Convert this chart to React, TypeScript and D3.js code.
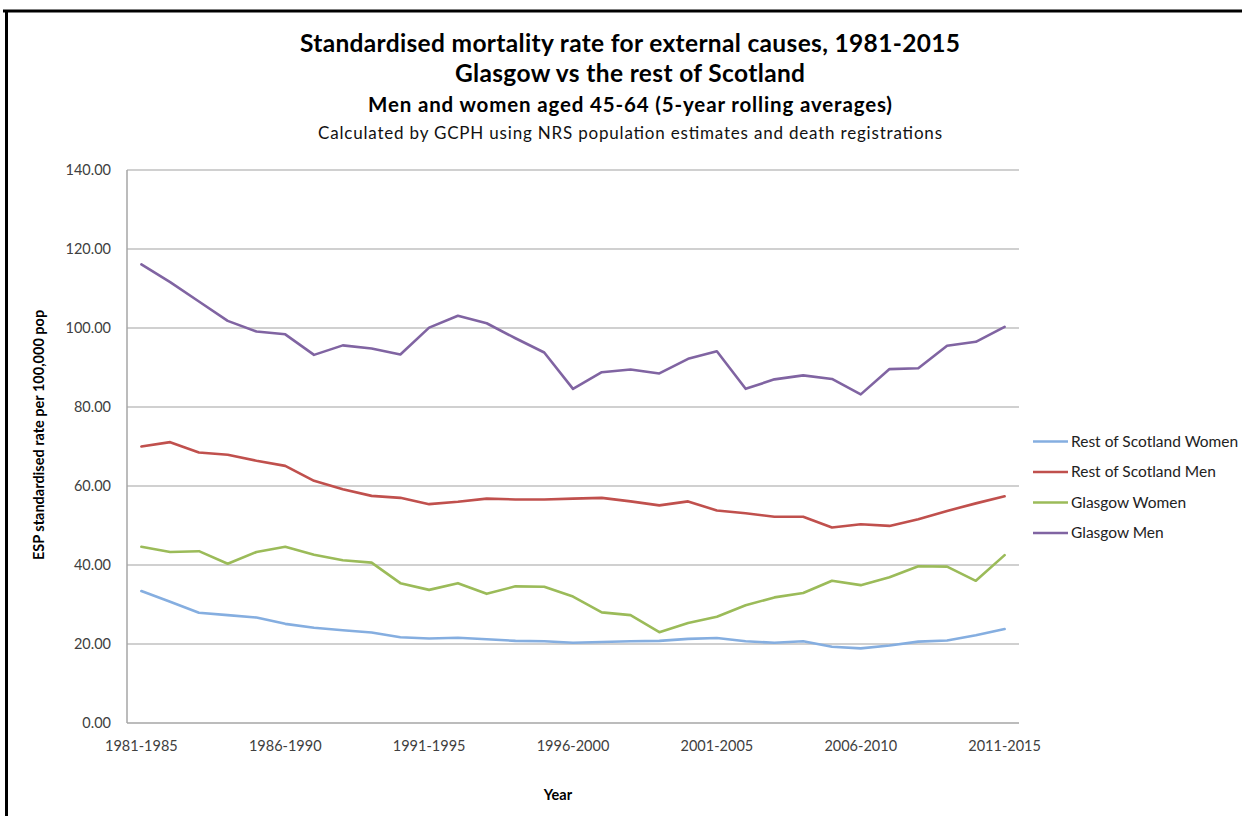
import React from "react";
import * as d3 from "d3";

const categories = [
  "1981-1985","1982-1986","1983-1987","1984-1988","1985-1989","1986-1990","1987-1991","1988-1992",
  "1989-1993","1990-1994","1991-1995","1992-1996","1993-1997","1994-1998","1995-1999","1996-2000",
  "1997-2001","1998-2002","1999-2003","2000-2004","2001-2005","2002-2006","2003-2007","2004-2008",
  "2005-2009","2006-2010","2007-2011","2008-2012","2009-2013","2010-2014","2011-2015",
];

const xTickLabels = ["1981-1985","1986-1990","1991-1995","1996-2000","2001-2005","2006-2010","2011-2015"];
const yTicks = [0, 20, 40, 60, 80, 100, 120, 140];

const restOfScotlandWomen = [33.4,30.7,27.9,27.3,26.7,25.1,24.1,23.5,22.9,21.7,21.4,21.6,21.2,20.8,20.7,20.3,20.5,20.7,20.8,21.3,21.5,20.7,20.3,20.7,19.3,18.9,19.6,20.6,20.9,22.2,23.8];
const restOfScotlandMen = [70.0,71.1,68.5,67.9,66.4,65.1,61.3,59.2,57.5,57.0,55.4,56.0,56.8,56.6,56.6,56.8,57.0,56.1,55.1,56.1,53.8,53.1,52.2,52.2,49.5,50.3,49.9,51.6,53.7,55.6,57.4];
const glasgowWomen = [44.6,43.3,43.5,40.3,43.3,44.6,42.6,41.2,40.6,35.4,33.7,35.4,32.7,34.6,34.5,32.0,28.0,27.3,23.0,25.3,26.9,29.8,31.8,32.9,36.0,34.9,36.9,39.7,39.6,36.0,42.5];
const glasgowMen = [116.1,111.6,106.7,101.8,99.1,98.4,93.2,95.6,94.8,93.3,100.1,103.1,101.2,97.4,93.8,84.6,88.8,89.5,88.5,92.2,94.1,84.6,87.0,88.0,87.1,83.2,89.6,89.8,95.5,96.5,100.3];

const seriesNames = ["Rest of Scotland Women", "Rest of Scotland Men", "Glasgow Women", "Glasgow Men"];
const seriesValues = [restOfScotlandWomen, restOfScotlandMen, glasgowWomen, glasgowMen];
const seriesColors = ["#85AEE0", "#C0504D", "#9BBB59", "#8064A2"];

const W = 1242;
const H = 816;
const plot = { left: 127, right: 1019, top: 170, bottom: 723 };
const FONT = "Lato, 'Open Sans', sans-serif";

export default function App() {
  const x = d3.scaleBand<string>().domain(categories).range([plot.left, plot.right]).padding(0);
  const cx = (c: string) => (x(c) as number) + x.bandwidth() / 2;
  const y = d3.scaleLinear().domain([0, 140]).range([plot.bottom, plot.top]);

  const line = d3
    .line<number>()
    .x((_, i) => cx(categories[i]))
    .y((d) => y(d));

  const legendX = 1033;
  const legendY0 = 441.5;
  const legendStep = 30.5;

  return (
    <svg
      width={W}
      height={H}
      style={{ position: "absolute", left: 0, top: 0, background: "#fff" }}
      fontFamily={FONT}
    >
      <rect x={0} y={0} width={W} height={H} fill="#fff" />
      {/* frame */}
      <line x1={3} y1={11} x2={W} y2={11} stroke="#000" strokeWidth={3} />
      <line x1={6.5} y1={11} x2={6.5} y2={H} stroke="#000" strokeWidth={3} />

      {/* titles */}
      <text x={630} y={52} textAnchor="middle" fontSize={24.5} fontWeight="bold" fill="#000" textLength={660}>
        Standardised mortality rate for external causes, 1981-2015
      </text>
      <text x={630} y={82} textAnchor="middle" fontSize={24.5} fontWeight="bold" fill="#000" textLength={350}>
        Glasgow vs the rest of Scotland
      </text>
      <text x={630} y={112} textAnchor="middle" fontSize={20.5} fontWeight="bold" fill="#000" textLength={524}>
        Men and women aged 45-64 (5-year rolling averages)
      </text>
      <text x={630} y={139} textAnchor="middle" fontSize={17} fill="#111" textLength={624}>
        Calculated by GCPH using NRS population estimates and death registrations
      </text>

      {/* gridlines */}
      {yTicks.map((t) => (
        <line
          key={"g" + t}
          x1={plot.left}
          x2={plot.right}
          y1={y(t)}
          y2={y(t)}
          stroke={t === 0 ? "#A6A6A6" : "#C0C0C0"}
          strokeWidth={1.5}
        />
      ))}
      <line x1={plot.left} x2={plot.left} y1={plot.top} y2={plot.bottom} stroke="#A6A6A6" strokeWidth={1.5} />

      {/* y tick labels */}
      {yTicks.map((t) => (
        <text key={"yl" + t} x={111} y={y(t) + 5} textAnchor="end" fontSize={14.5} fill="#404040">
          {t.toFixed(2)}
        </text>
      ))}

      {/* x tick labels */}
      {xTickLabels.map((c) => (
        <text key={"xl" + c} x={cx(c)} y={751} textAnchor="middle" fontSize={14.5} fill="#404040">
          {c}
        </text>
      ))}

      {/* axis titles */}
      <text x={558} y={800} textAnchor="middle" fontSize={14.5} fontWeight="bold" fill="#000">
        Year
      </text>
      <text
        transform={`translate(44, 435) rotate(-90)`}
        textAnchor="middle"
        fontSize={14.5}
        fontWeight="bold"
        fill="#000"
      >
        ESP standardised rate per 100,000 pop
      </text>

      {/* series */}
      {seriesValues.map((vals, i) => (
        <path
          key={seriesNames[i]}
          d={line(vals) || ""}
          fill="none"
          stroke={seriesColors[i]}
          strokeWidth={2.6}
          strokeLinejoin="round"
          strokeLinecap="round"
        />
      ))}

      {/* legend */}
      {seriesNames.map((n, i) => (
        <g key={"lg" + n} transform={`translate(${legendX}, ${legendY0 + i * legendStep})`}>
          <line x1={0} x2={35} y1={0} y2={0} stroke={seriesColors[i]} strokeWidth={2.6} />
          <text x={38} y={5} fontSize={15.5} fill="#222">
            {n}
          </text>
        </g>
      ))}
    </svg>
  );
}
